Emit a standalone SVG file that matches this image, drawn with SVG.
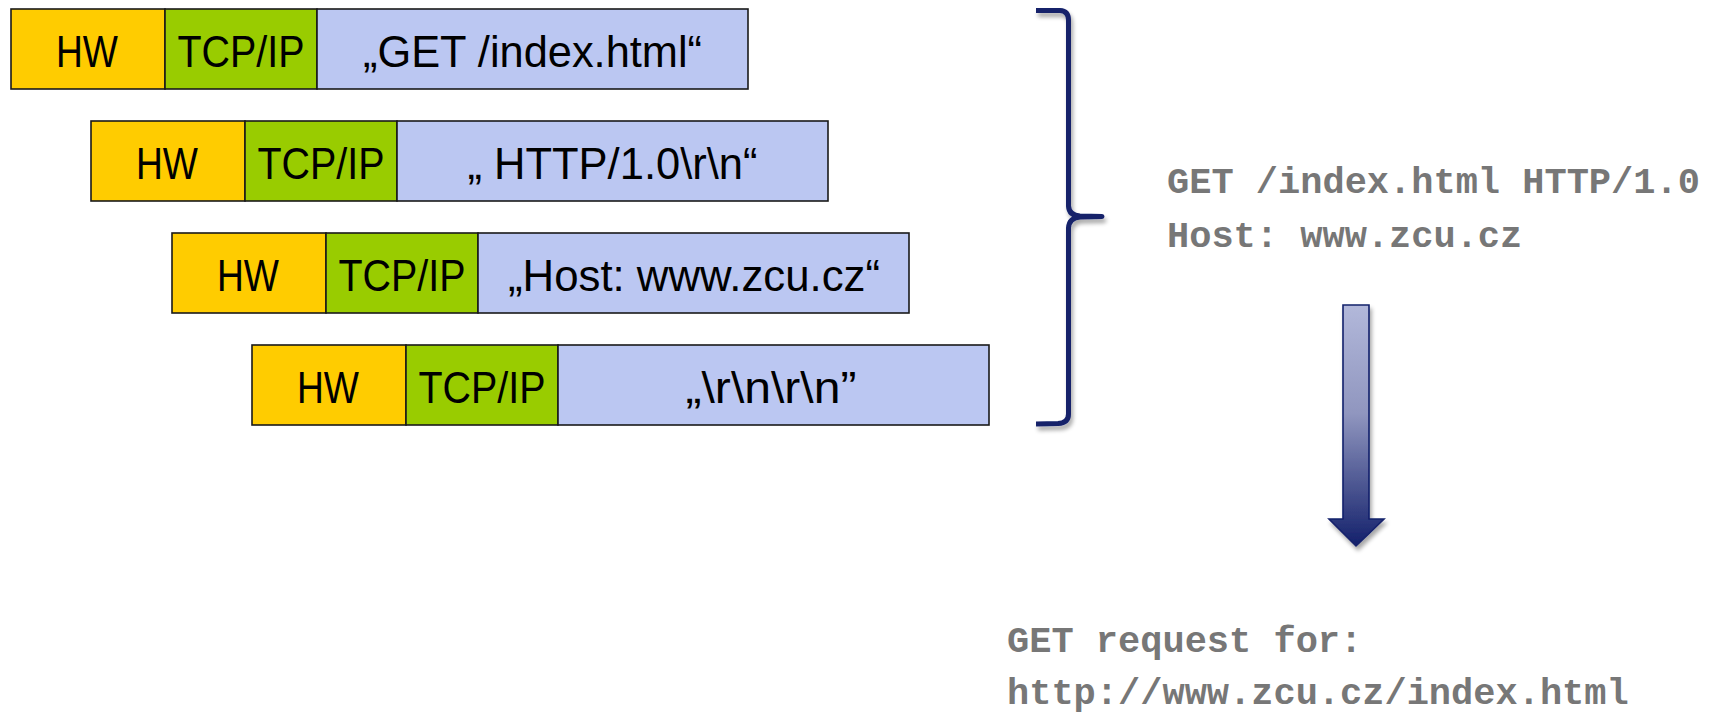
<svg xmlns="http://www.w3.org/2000/svg" width="1719" height="712" viewBox="0 0 1719 712">
<defs>
<style>
.box{stroke:#1a1a1a;stroke-width:1.6}
.hw{fill:#ffcc00}
.tcp{fill:#99cc00}
.pl{fill:#bbc7f2}
.t{font-family:"Liberation Sans",Arial,sans-serif;font-size:45px;fill:#000;text-anchor:middle}
.m{font-family:"Liberation Mono","Courier New",monospace;font-weight:bold;font-size:37px;fill:#777777}
</style>
<linearGradient id="ag" x1="0" y1="0" x2="0" y2="1">
<stop offset="0" stop-color="#b2b8da"/>
<stop offset="0.45" stop-color="#9096bf"/>
<stop offset="1" stop-color="#13206b"/>
</linearGradient>
<filter id="sh" x="-20%" y="-5%" width="160%" height="115%">
<feGaussianBlur in="SourceAlpha" stdDeviation="2"/>
<feOffset dx="2" dy="4" result="b"/>
<feComponentTransfer><feFuncA type="linear" slope="0.35"/></feComponentTransfer>
<feMerge><feMergeNode/><feMergeNode in="SourceGraphic"/></feMerge>
</filter>
</defs>

<g id="row1">
<rect class="box hw" x="11" y="9" width="154" height="80"/>
<rect class="box tcp" x="165" y="9" width="152" height="80"/>
<rect class="box pl" x="317" y="9" width="431" height="80"/>
<text class="t" x="87" y="67" textLength="62" lengthAdjust="spacingAndGlyphs">HW</text>
<text class="t" x="241" y="67" textLength="127" lengthAdjust="spacingAndGlyphs">TCP/IP</text>
<text class="t" x="532.5" y="67" textLength="339" lengthAdjust="spacingAndGlyphs">„GET /index.html“</text>
</g>

<g id="row2">
<rect class="box hw" x="91" y="121" width="154" height="80"/>
<rect class="box tcp" x="245" y="121" width="152" height="80"/>
<rect class="box pl" x="397" y="121" width="431" height="80"/>
<text class="t" x="167" y="179" textLength="62" lengthAdjust="spacingAndGlyphs">HW</text>
<text class="t" x="321" y="179" textLength="127" lengthAdjust="spacingAndGlyphs">TCP/IP</text>
<text class="t" x="612.5" y="179" textLength="290" lengthAdjust="spacingAndGlyphs">„ HTTP/1.0\r\n“</text>
</g>

<g id="row3">
<rect class="box hw" x="172" y="233" width="154" height="80"/>
<rect class="box tcp" x="326" y="233" width="152" height="80"/>
<rect class="box pl" x="478" y="233" width="431" height="80"/>
<text class="t" x="248" y="291" textLength="62" lengthAdjust="spacingAndGlyphs">HW</text>
<text class="t" x="402" y="291" textLength="127" lengthAdjust="spacingAndGlyphs">TCP/IP</text>
<text class="t" x="694" y="291" textLength="372" lengthAdjust="spacingAndGlyphs">„Host: www.zcu.cz“</text>
</g>

<g id="row4">
<rect class="box hw" x="252" y="345" width="154" height="80"/>
<rect class="box tcp" x="406" y="345" width="152" height="80"/>
<rect class="box pl" x="558" y="345" width="431" height="80"/>
<text class="t" x="328" y="403" textLength="62" lengthAdjust="spacingAndGlyphs">HW</text>
<text class="t" x="482" y="403" textLength="127" lengthAdjust="spacingAndGlyphs">TCP/IP</text>
<text class="t" x="771" y="403" textLength="171" lengthAdjust="spacingAndGlyphs">„\r\n\r\n”</text>
</g>

<g id="connectors">
<path id="brace" filter="url(#sh)" d="M1036,10.5 L1060,10.5 Q1068.5,11 1068.5,20 L1068.5,206 Q1069,215.5 1080,216 L1102,216.5 L1080,217 Q1069,218 1068.5,228 L1068.5,414 Q1068.5,423 1058,423.5 L1036,424" fill="none" stroke="#13206b" stroke-width="5" stroke-linejoin="round"/>
<path id="arrow" filter="url(#sh)" d="M1343,305 L1369,305 L1369,519 L1384,519 L1356,546 L1329,519 L1343,519 Z" fill="url(#ag)" stroke="#13206b" stroke-width="1.6" stroke-linejoin="miter"/>
</g>

<g id="result">
<text class="m" x="1167" y="193">GET /index.html HTTP/1.0</text>
<text class="m" x="1167" y="247">Host: www.zcu.cz</text>
</g>

<g id="final">
<text class="m" x="1007" y="652">GET request for:</text>
<text class="m" x="1007" y="704">http://www.zcu.cz/index.html</text>
</g>
</svg>
